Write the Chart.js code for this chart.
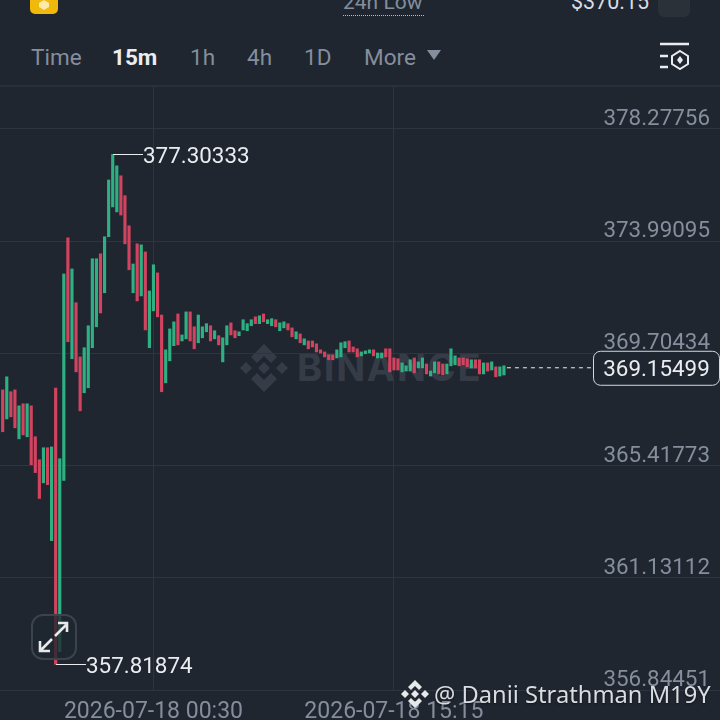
<!DOCTYPE html>
<html>
<head>
<meta charset="utf-8">
<title>15m chart</title>
<script src="https://cdn.jsdelivr.net/npm/chart.js@4"></script>
<style>
    html, body { margin: 0; padding: 0; background: #1f2630; }
    #page { position: relative; width: 720px; height: 720px; overflow: hidden; background: #1f2630; font-family: Roboto, sans-serif; }
    #page div, #page svg { position: absolute; }
    .tab { top: 42px; font-size: 22.5px; line-height: 30px; color: #848e9c; }
    #chart-box { left: 0; top: 86px; width: 720px; height: 634px; }
    #mark-text { left: 297px; top: 344px; font: bold 38px Inter, sans-serif; letter-spacing: 1.7px; line-height: 46px; color: #363c47; }
    #credit { left: 434px; top: 677px; font: 23.7px "Noto Sans", sans-serif; line-height: 34px; color: #d9dce0; white-space: nowrap; text-shadow: 0 1px 2px rgba(0,0,0,.5); }
</style>
</head>
<body>
<div id="page">
    <div style="left:30px;top:-6px;width:28px;height:20px;background:#f0b90b;border-radius:5px"></div>
    <svg style="left:38px;top:0" width="12" height="10"><path d="M6 0L11 3V7L6 10L1 7V3Z" fill="#fbe9a8"/></svg>
    <div style="left:343px;top:-11px;font-size:21px;line-height:26px;color:#848e9c;width:81px;white-space:nowrap">24h Low</div>
    <div style="left:343px;top:15px;width:81px;border-top:1px dotted #b7bdc6"></div>
    <div style="left:571px;top:-11px;font-size:21.5px;line-height:26px;color:#d9dce0">$370.15</div>
    <div style="left:658px;top:-6px;width:32px;height:23px;background:#2b3139;border-radius:6px"></div>

    <div class="tab" style="left:31px">Time</div>
    <div class="tab" style="left:112px;color:#eaecef;font-weight:700">15m</div>
    <div class="tab" style="left:190px">1h</div>
    <div class="tab" style="left:247px">4h</div>
    <div class="tab" style="left:304px">1D</div>
    <div class="tab" style="left:364px">More</div>
    <svg style="left:427px;top:50px" width="15" height="11"><path d="M0 0H14L7 10Z" fill="#848e9c"/></svg>
    <svg style="left:658px;top:42px" width="32" height="28">
        <path d="M2 2H31M2 14H10M2 25H10" stroke="#eaecef" stroke-width="2.4" fill="none"/>
        <path d="M22 9L30 14V22L22 27L14 22V14Z" stroke="#eaecef" stroke-width="2" fill="none"/>
        <path d="M22 14L25 18L22 22L19 18Z" fill="#eaecef"/>
    </svg>
    <div style="left:0;top:85px;width:720px;height:2px;background:#2a303a"></div>

    <svg style="left:240px;top:344px" width="48" height="48">
        <g fill="#363c47">
            <path d="M24 0L37 13L31 19L24 12L17 19L11 13Z"/>
            <path d="M24 48L37 35L31 29L24 36L17 29L11 35Z"/>
            <path d="M6 18L12 24L6 30L0 24Z"/>
            <path d="M42 18L48 24L42 30L36 24Z"/>
            <path d="M24 18L30 24L24 30L18 24Z"/>
        </g>
    </svg>
    <div id="mark-text">BINANCE</div>

    <div id="chart-box"><canvas id="candles"></canvas></div>

    <svg style="left:30px;top:613px" width="48" height="48">
        <rect x="2" y="2" width="44" height="44" rx="11" fill="rgba(31,38,48,.78)" stroke="#3c434e" stroke-width="2"/>
        <path d="M25 23L36 12M28 10H37V19M22 26L11 37M10 28V38H20" stroke="#e6e8ea" stroke-width="2.6" fill="none"/>
    </svg>
    <svg style="left:401px;top:680px" width="28" height="28">
        <g fill="#e6e8ea">
            <path d="M14 0L21 7L18 10L14 6L10 10L7 7Z"/>
            <path d="M14 28L21 21L18 18L14 22L10 18L7 21Z"/>
            <path d="M4 10L8 14L4 18L0 14Z"/>
            <path d="M24 10L28 14L24 18L20 14Z"/>
            <path d="M14 10L18 14L14 18L10 14Z"/>
        </g>
    </svg>
    <div id="credit">@ Danii Strathman M19Y</div>
</div>

<script>
// prices, one entry per 15m candle
const candleHigh = [368.31,368.81,368.24,368.31,367.70,367.78,367.78,367.70,366.52,365.64,366.10,366.10,366.13,368.38,365.68,372.74,374.12,372.93,371.64,369.57,369.92,370.76,373.32,373.32,373.51,374.16,376.33,377.30333,376.87,376.49,375.73,374.58,373.12,373.89,373.85,373.58,372.09,373.09,372.78,371.17,369.84,370.64,370.91,371.21,370.41,371.29,371.29,370.72,371.17,370.72,370.84,370.76,370.57,370.38,370.30,370.76,370.87,370.57,370.53,370.99,370.84,370.99,371.10,371.14,371.21,370.99,371.03,370.99,370.87,370.91,370.84,370.68,370.53,370.45,370.26,370.18,370.18,370.07,369.84,369.76,369.65,369.65,369.84,370.11,370.15,370.18,369.95,369.88,369.76,369.80,369.84,369.84,369.72,369.72,369.88,369.88,369.53,369.50,369.34,369.23,369.46,369.53,369.38,369.53,369.30,369.03,369.38,369.38,369.30,369.30,369.88,369.61,369.53,369.53,369.50,369.46,369.46,369.46,369.34,369.34,369.38,369.19,369.19,369.23];
const candleLow = [366.71,367.20,367.28,366.86,366.44,366.59,366.52,365.45,365.15,364.16,364.76,364.69,362.55,357.81874,358.31,364.85,370.15,369.50,369.00,367.51,368.20,368.39,369.92,370.72,371.25,372.02,374.16,375.30,375.11,374.99,373.89,372.90,372.02,371.71,371.90,370.60,369.92,371.33,371.10,368.24,368.58,369.42,370.00,370.03,370.18,370.26,370.18,369.88,370.11,370.30,370.53,370.18,370.26,370.03,369.38,370.03,370.41,370.30,370.38,370.60,370.57,370.76,370.84,370.84,370.91,370.84,370.76,370.72,370.57,370.68,370.60,370.34,370.26,370.11,370.03,369.88,369.95,369.76,369.72,369.57,369.46,369.46,369.53,369.57,369.92,369.76,369.76,369.57,369.61,369.69,369.72,369.61,369.53,369.53,369.57,369.00,369.07,369.07,369.00,369.03,369.03,368.96,369.15,369.15,368.92,368.84,368.96,368.92,368.88,368.92,369.23,369.27,369.23,369.27,369.19,369.15,369.15,368.92,368.92,369.03,369.07,368.81,368.84,368.88];
const candleUp = [0,1,0,0,1,0,1,0,0,0,1,0,1,0,1,1,0,1,0,0,1,1,1,1,0,1,1,1,1,0,0,0,1,0,1,0,1,1,0,0,1,1,1,0,1,1,0,0,1,1,1,0,1,0,1,1,0,0,1,1,1,1,0,1,0,1,1,0,1,1,0,0,1,0,1,0,0,0,0,0,0,0,1,1,1,0,0,0,1,1,1,0,1,1,0,0,0,0,1,1,1,0,1,1,0,1,1,0,0,1,1,1,0,0,0,1,0,0,1,0,1,0,1,1];

const priceTicks = [378.27756, 373.99095, 369.70434, 365.41773, 361.13112, 356.84451];
const timeTickIndex = [37, 96];
const timeTickLabels = ['2026-07-18 00:30', '2026-07-18 15:15'];

const highLabel = 377.30333, highIndex = 27;
const lowLabel = 357.81874, lowIndex = 13;
const lastPrice = 369.15499, lastIndex = 123;

const gridColor = '#2f3540';
const tickColor = '#848e9c';
const upColor = '#2fb083';
const downColor = '#d2435f';

// high / low leaders and the last price tag, placed through the scales
const pricePlugin = {
    id: 'priceMarks',
    afterDatasetsDraw(chart) {
        const ctx = chart.ctx;
        const x = chart.scales.x;
        const y = chart.scales.y;
        ctx.save();
        ctx.font = '22.4px Roboto';
        ctx.textBaseline = 'middle';
        ctx.textAlign = 'left';
        ctx.strokeStyle = '#eaecef';
        ctx.fillStyle = '#eaecef';
        ctx.lineWidth = 1;

        [[highIndex, highLabel], [lowIndex, lowLabel]].forEach(function(item) {
            const px = Math.round(x.getPixelForValue(item[0]));
            const py = Math.round(y.getPixelForValue(item[1])) + 0.5;
            ctx.beginPath();
            ctx.moveTo(px, py);
            ctx.lineTo(px + 30, py);
            ctx.stroke();
            ctx.fillText(item[1].toFixed(5), px + 30, py + 2.5);
        });

        const lastX = x.getPixelForValue(lastIndex) + 3;
        const lastY = y.getPixelForValue(lastPrice);
        ctx.setLineDash([4, 4]);
        ctx.beginPath();
        ctx.moveTo(lastX, lastY);
        ctx.lineTo(593, lastY);
        ctx.stroke();
        ctx.setLineDash([]);

        ctx.beginPath();
        ctx.roundRect(593.5, lastY - 16.5, 126, 34, 7);
        ctx.fillStyle = '#1f2630';
        ctx.fill();
        ctx.strokeStyle = '#d5d8dc';
        ctx.stroke();
        ctx.fillStyle = '#eaecef';
        ctx.textAlign = 'center';
        ctx.fillText(lastPrice.toFixed(5), 656.5, lastY + 2.5);
        ctx.restore();
    }
};

function noPadding(scale) {
    scale.paddingTop = 0;
    scale.paddingBottom = 0;
    scale.paddingLeft = 0;
    scale.paddingRight = 0;
}

document.addEventListener('DOMContentLoaded', function() {
    const barData = candleHigh.map(function(high, i) {
        return { x: i, y: [candleLow[i], high] };
    });

    new Chart(document.getElementById('candles').getContext('2d'), {
        type: 'bar',
        data: {
            datasets: [{
                data: barData,
                backgroundColor: candleUp.map(up => up ? upColor : downColor),
                barThickness: 2.5,
                borderWidth: 0
            }]
        },
        options: {
            responsive: true,
            maintainAspectRatio: false,
            animation: false,
            layout: { padding: 0 },
            plugins: { legend: { display: false }, tooltip: { enabled: false } },
            scales: {
                x: {
                    type: 'linear',
                    offset: false,
                    min: -0.66,
                    max: 176.02,
                    border: { display: false },
                    grid: { color: gridColor, drawTicks: false, offset: false },
                    afterBuildTicks: function(scale) {
                        scale.ticks = timeTickIndex.map(v => ({ value: v }));
                    },
                    afterFit: function(scale) {
                        scale.height = 30;
                        noPadding(scale);
                    },
                    ticks: {
                        autoSkip: false,
                        maxRotation: 0,
                        padding: 8,
                        color: tickColor,
                        font: { family: 'Roboto', size: 23 },
                        callback: function(value) {
                            return timeTickLabels[timeTickIndex.indexOf(value)];
                        }
                    }
                },
                y: {
                    type: 'linear',
                    position: 'right',
                    min: 356.84451,
                    max: 379.92,
                    border: { display: false },
                    grid: { color: gridColor, drawTicks: false },
                    afterBuildTicks: function(scale) {
                        scale.ticks = priceTicks.map(v => ({ value: v }));
                    },
                    afterFit: function(scale) {
                        scale.width = 0;
                        noPadding(scale);
                    },
                    ticks: {
                        mirror: true,
                        padding: -10,
                        labelOffset: -9.5,
                        color: tickColor,
                        font: { family: 'Roboto', size: 22.4 },
                        callback: function(value) { return value.toFixed(5); }
                    }
                }
            }
        },
        plugins: [pricePlugin]
    });
});
</script>
</body>
</html>
